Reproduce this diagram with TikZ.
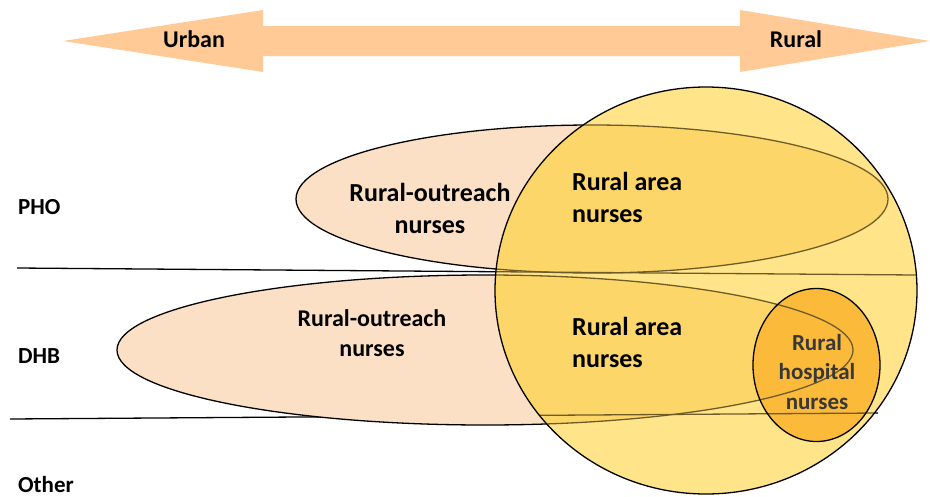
\documentclass[tikz,border=0pt]{standalone}
\usepackage{fontspec}
\setmainfont{Carlito}
\definecolor{peach}{RGB}{252,224,198}
\definecolor{arrowc}{RGB}{255,202,150}
\definecolor{lyellow}{RGB}{255,228,138}
\definecolor{dyellow}{RGB}{253,214,106}
\definecolor{hosp}{RGB}{251,186,58}
\definecolor{seen}{RGB}{110,92,40}
\tikzset{
  lbl/.style={font=\bfseries\fontsize{24}{30}\selectfont, align=center, inner sep=0pt},
  biglbl/.style={font=\bfseries\fontsize{26}{32}\selectfont, align=center, inner sep=0pt},
  sidelbl/.style={font=\bfseries\fontsize{23}{28}\selectfont, anchor=west, inner sep=0pt},
  border/.style={draw=black, line width=1.3pt},
  faint/.style={draw=seen, line width=1.3pt},
}
\begin{document}
\begin{tikzpicture}[x=1pt,y=-1pt]
\useasboundingbox (0,0) rectangle (930,496);
% double arrow
\fill[arrowc] (63,41) -- (263,10) -- (263,26) -- (740,26) -- (740,10) -- (930,41) -- (740,72) -- (740,56) -- (263,56) -- (263,72) -- cycle;
\node[lbl] (urban) at (194,39) {Urban};
\node[lbl] (rural) at (796,39) {Rural};
% divider lines
\coordinate (l1a) at (17,268);
\coordinate (l1b) at (916,275);
\coordinate (l2a) at (10,419);
\coordinate (l2b) at (878,413);
\draw[border] (l1a) -- (l1b);
\draw[border] (l2a) -- (l2b);
% outreach ellipses
\path[fill=peach, border] (592,199) ellipse [x radius=296, y radius=74];
\path[fill=peach, border] (485,350) ellipse [x radius=368, y radius=75];
% big circle
\path[fill=lyellow] (706,290.5) ellipse [x radius=211, y radius=203.5];
\begin{scope}
  \clip (706,290.5) ellipse [x radius=211, y radius=203.5];
  \fill[dyellow] (592,199) ellipse [x radius=296, y radius=74];
  \fill[dyellow] (485,350) ellipse [x radius=368, y radius=75];
  \draw[faint] (592,199) ellipse [x radius=296, y radius=74];
  \draw[faint] (485,350) ellipse [x radius=368, y radius=75];
  \draw[faint] (l1a) -- (l1b);
  \draw[faint] (l2a) -- (l2b);
\end{scope}
\draw[border] (706,290.5) ellipse [x radius=211, y radius=203.5];
% hospital ellipse
\path[fill=hosp] (816.5,365) ellipse [x radius=63.5, y radius=76.5];
\begin{scope}
  \clip (816.5,365) ellipse [x radius=63.5, y radius=76.5];
  \draw[faint] (485,350) ellipse [x radius=368, y radius=75];
  \draw[faint] (l2a) -- (l2b);
\end{scope}
\draw[border] (816.5,365) ellipse [x radius=63.5, y radius=76.5];
% labels
\node[biglbl] (ro1) at (430,208) {Rural-outreach\\nurses};
\node[biglbl, align=left, anchor=west] (ra1) at (572,197) {Rural area\\nurses};
\node[lbl] (ro2) at (372,333) {Rural-outreach\\nurses};
\node[biglbl, align=left, anchor=west] (ra2) at (572,342) {Rural area\\nurses};
\node[lbl, text=black!78, font=\bfseries\fontsize{23}{29.5}\selectfont] (hn) at (817,372) {Rural\\hospital\\nurses};
\node[sidelbl] (pho) at (18,207) {PHO};
\node[sidelbl] (dhb) at (18,356) {DHB};
\node[sidelbl] (oth) at (18,485) {Other};
\end{tikzpicture}
\end{document}
